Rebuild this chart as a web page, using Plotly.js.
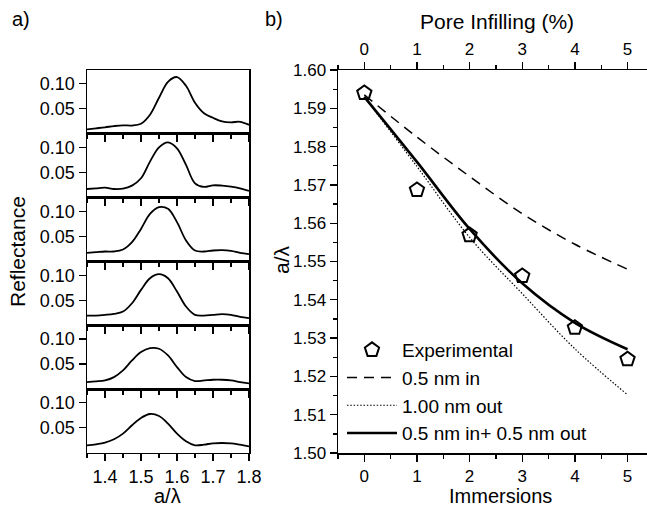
<!DOCTYPE html>
<html>
<head>
<meta charset="utf-8">
<script src="https://cdn.plot.ly/plotly-3.0.1.min.js"></script>
<style>html,body{margin:0;padding:0;background:#fff;}#chart{width:647px;height:509px;}</style>
</head>
<body>
<div id="chart"></div>
<script>
// ---- Data: panel a) reflectance spectra (top to bottom) ----
const aLambda = [1.35,1.375,1.4,1.425,1.45,1.475,1.5,1.525,1.55,1.575,1.6,1.625,1.65,1.675,1.7,1.725,1.75,1.775,1.8];
const spec1 = [0.009,0.011,0.013,0.0155,0.017,0.0165,0.020,0.038,0.072,0.104,0.1135,0.096,0.062,0.041,0.032,0.025,0.023,0.024,0.018];
const spec2 = [0.0172,0.0186,0.0198,0.0172,0.0179,0.024,0.0386,0.072,0.1006,0.1106,0.0986,0.0653,0.0286,0.0213,0.0246,0.024,0.022,0.0186,0.0133];
const spec3 = [0.0172,0.0185,0.0198,0.0198,0.0238,0.0385,0.065,0.095,0.1085,0.1051,0.0785,0.042,0.0218,0.0198,0.0218,0.0225,0.021,0.0172,0.0145];
const spec4 = [0.0193,0.0193,0.0206,0.0226,0.0273,0.0439,0.0706,0.094,0.102,0.094,0.0673,0.0373,0.0206,0.0193,0.0206,0.022,0.0206,0.0166,0.014];
const spec5 = [0.0138,0.0152,0.0172,0.0238,0.0371,0.0571,0.0738,0.0818,0.0805,0.0671,0.0438,0.0238,0.0158,0.0172,0.0185,0.0185,0.0172,0.0138,0.0111];
const spec6 = [0.015,0.017,0.0203,0.027,0.0383,0.055,0.0696,0.0776,0.0736,0.0583,0.0383,0.023,0.015,0.0163,0.019,0.0196,0.019,0.0163,0.013];
const reflTickVals = [0.05, 0.10];
const reflTickText = ["0.05", "0.10"];

// ---- Data: panel b) ----
const immersions = [0,1,2,3,4,5];
const poreInfill = [0,1,2,3,4,5];
const experimental = [1.5940,1.5687,1.5569,1.5462,1.5327,1.5245];
const model05in = [1.5935,1.5825,1.5722,1.5625,1.5545,1.5480];
const model100out = [1.5930,1.5748,1.5563,1.5416,1.5272,1.5152];
const model05in05out = [1.5930,1.5760,1.5585,1.5443,1.5340,1.5271];

const spectra = [spec1,spec2,spec3,spec4,spec5,spec6];

const W = 647, H = 509;
const FONT = "Liberation Sans, Arial, Helvetica, sans-serif";
const px = v => v / W;
const py = v => 1 - v / H;

const traces = [];
const layout = {
  width: W, height: H,
  margin: {l:0, r:0, t:0, b:0},
  paper_bgcolor: "#fff",
  plot_bgcolor: "rgba(0,0,0,0)",
  font: {family: FONT, size: 17, color: "#000"},
  showlegend: true,
  annotations: []
};

// left stacked panels
const panelTop = 70, panelH = 63.8;
spectra.forEach((s, i) => {
  const n = i + 1;
  const xa = n === 1 ? "x" : "x" + n;
  const ya = n === 1 ? "y" : "y" + n;
  traces.push({
    x: aLambda, y: s, xaxis: xa, yaxis: ya, type: "scatter", mode: "lines",
    line: {color: "#000", width: 1.8, shape: "spline", smoothing: 1},
    showlegend: false, hoverinfo: "skip"
  });
  const top = panelTop + i * panelH, bot = top + panelH;
  const isLast = n === 6;
  layout[n === 1 ? "xaxis" : "xaxis" + n] = {
    domain: [px(87), px(249)], anchor: ya, range: [1.35, 1.8],
    showline: true, linecolor: "#000", linewidth: 1.5, mirror: true,
    ticks: "outside", ticklen: 7, tickwidth: 1.3, tickcolor: "#000",
    tick0: 1.4, dtick: 0.1, tickformat: ".1f",
    minor: {dtick: 0.05, ticks: "outside", ticklen: 4, tickwidth: 1.3, tickcolor: "#000", showgrid: false},
    showticklabels: isLast, showgrid: false, zeroline: false,
    tickfont: {size: 18, family: FONT}
  };
  layout[n === 1 ? "yaxis" : "yaxis" + n] = {
    domain: [py(bot), py(top)], anchor: xa, range: [0, 0.1276],
    showline: true, linecolor: "#000", linewidth: 1.5, mirror: true,
    ticks: "outside", ticklen: 7, tickwidth: 1.3, tickcolor: "#000",
    tickmode: "array", tickvals: reflTickVals, ticktext: reflTickText,
    showgrid: false, zeroline: false,
    tickfont: {size: 18, family: FONT}
  };
});

// right panel
const commonLine = {type: "scatter", mode: "lines", xaxis: "x7", yaxis: "y7", hoverinfo: "skip"};
traces.push({
  x: immersions, y: experimental, xaxis: "x7", yaxis: "y7", type: "scatter", mode: "markers",
  name: "Experimental",
  marker: {symbol: "pentagon-open", size: 15, color: "#000", line: {width: 2, color: "#000"}}
});
traces.push(Object.assign({}, commonLine, {x: immersions, y: model05in, name: "0.5 nm in",
  line: {color: "#000", width: 1.5, dash: "10px,7px", shape: "spline"}}));
traces.push(Object.assign({}, commonLine, {x: immersions, y: model100out, name: "1.00 nm out",
  line: {color: "#000", width: 1.2, dash: "1.5px,1.8px", shape: "spline"}}));
traces.push(Object.assign({}, commonLine, {x: immersions, y: model05in05out, name: "0.5 nm in+ 0.5 nm out",
  line: {color: "#000", width: 2.6, shape: "spline"}}));
// carrier for the top (pore infilling) axis, draws nothing
traces.push({x: poreInfill, y: experimental, xaxis: "x8", yaxis: "y7", type: "scatter", mode: "none",
  showlegend: false, hoverinfo: "skip"});

const bRange = [-0.5, 5.37];
layout.xaxis7 = {
  domain: [px(338), 1], anchor: "y7", range: bRange,
  showline: true, linecolor: "#000", linewidth: 1.5, mirror: false,
  ticks: "outside", ticklen: 7, tickwidth: 1.3, tickcolor: "#000",
  tick0: 0, dtick: 1,
  minor: {dtick: 0.5, ticks: "outside", ticklen: 4, tickwidth: 1.3, tickcolor: "#000", showgrid: false},
  showgrid: false, zeroline: false, tickfont: {size: 17, family: FONT}
};
layout.xaxis8 = {
  overlaying: "x7", side: "top", anchor: "y7", range: bRange,
  showline: true, linecolor: "#000", linewidth: 1.5,
  ticks: "outside", ticklen: 7, tickwidth: 1.3, tickcolor: "#000",
  tickmode: "array", tickvals: poreInfill, ticktext: poreInfill.map(String),
  minor: {dtick: 0.5, tick0: 0, ticks: "outside", ticklen: 4, tickwidth: 1.3, tickcolor: "#000", showgrid: false},
  showgrid: false, zeroline: false, tickfont: {size: 17, family: FONT}
};
layout.yaxis7 = {
  domain: [py(453), py(70)], anchor: "x7", range: [1.50, 1.60],
  showline: true, linecolor: "#000", linewidth: 1.5, mirror: false,
  ticks: "outside", ticklen: 7, tickwidth: 1.3, tickcolor: "#000",
  tick0: 1.5, dtick: 0.01, tickformat: ".2f",
  minor: {dtick: 0.005, ticks: "outside", ticklen: 4, tickwidth: 1.3, tickcolor: "#000", showgrid: false},
  showgrid: false, zeroline: false, tickfont: {size: 17, family: FONT}
};

layout.legend = {
  x: px(342), y: py(331), xanchor: "left", yanchor: "top",
  bgcolor: "rgba(0,0,0,0)", borderwidth: 0,
  font: {size: 19, family: FONT, color: "#000"},
  tracegroupgap: 0, itemwidth: 50
};

function ann(text, x, y, size, angle, yanchor) {
  layout.annotations.push({
    text: text, x: px(x), y: py(y), xref: "paper", yref: "paper",
    xanchor: "center", yanchor: yanchor || "middle", showarrow: false,
    textangle: angle || 0, font: {size: size, family: FONT, color: "#000"}
  });
}
ann("a)", 21, 19, 20);
ann("b)", 274, 19, 20);
ann("Reflectance", 18, 252, 21, -90);
ann("a/λ", 167, 509, 20, 0, "bottom");
ann("a/λ", 281, 260, 21, -90);
ann("Immersions", 500, 509, 20, 0, "bottom");
ann("Pore Infilling (%)", 497, 21, 21);

Plotly.newPlot("chart", traces, layout, {staticPlot: true, displayModeBar: false});
</script>
</body>
</html>
